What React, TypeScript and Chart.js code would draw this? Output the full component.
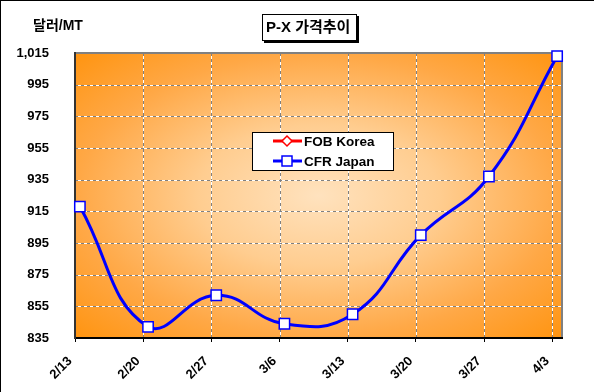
import React, { useEffect, useRef } from "react";
import { Chart, registerables } from "chart.js";

Chart.register(...registerables);

const categories = ["2/13", "2/20", "2/27", "3/6", "3/13", "3/20", "3/27", "4/3"];
const dayOffsets = [0, 7, 14, 21, 28, 35, 42, 49];
const cfrJapan = [918, 842, 862, 844, 850, 900, 937, 1013];
const fobKorea: (number | null)[] = [null, null, null, null, null, null, null, null];
const yMin = 835;
const yMax = 1015;
const yStep = 20;
const titleText = "P-X 가격추이";
const yUnitText = "달러/MT";

const FONT = '"Liberation Sans", "Noto Sans CJK KR", Arial, sans-serif';

const labelFor = (v: number) => categories[dayOffsets.indexOf(Number(v))] ?? "";

const decorPlugin = {
  id: "decor",
  beforeDraw(chart: any) {
    const { ctx, chartArea: a, scales } = chart;
    ctx.save();
    ctx.fillStyle = "#ffffff";
    ctx.fillRect(0, 0, chart.width, chart.height);
    const cx = (a.left + a.right) / 2;
    const cy = (a.top + a.bottom) / 2;
    const hw = (a.right - a.left) / 2;
    const hh = (a.bottom - a.top) / 2;
    ctx.save();
    ctx.translate(cx, cy);
    ctx.scale(hw, hh);
    const g = ctx.createRadialGradient(0, 0, 0, 0, 0, Math.SQRT2);
    g.addColorStop(0, "#FFE2BE");
    g.addColorStop(0.35, "#FFCD90");
    g.addColorStop(0.7, "#FFA846");
    g.addColorStop(1, "#FF9410");
    ctx.fillStyle = g;
    ctx.fillRect(-1, -1, 2, 2);
    ctx.restore();

    const drawLine = (x1: number, y1: number, x2: number, y2: number) => {
      ctx.lineWidth = 1;
      ctx.setLineDash([]);
      ctx.strokeStyle = "#ffffff";
      ctx.beginPath();
      ctx.moveTo(x1, y1);
      ctx.lineTo(x2, y2);
      ctx.stroke();
      ctx.setLineDash([3, 3]);
      ctx.strokeStyle = "#808080";
      ctx.beginPath();
      ctx.moveTo(x1, y1);
      ctx.lineTo(x2, y2);
      ctx.stroke();
    };
    scales.x.ticks.forEach((t: any) => {
      if (t.value === 0) return;
      const x = Math.round(scales.x.getPixelForValue(t.value)) + 0.5;
      drawLine(x, a.top, x, a.bottom);
    });
    scales.y.ticks.forEach((t: any) => {
      if (t.value === yMin || t.value === yMax) return;
      const y = Math.round(scales.y.getPixelForValue(t.value)) + 0.5;
      drawLine(a.left, y, a.right, y);
    });
    ctx.setLineDash([]);
    ctx.strokeStyle = "#808080";
    ctx.lineWidth = 2;
    ctx.beginPath();
    ctx.moveTo(a.left, a.top);
    ctx.lineTo(a.right, a.top);
    ctx.lineTo(a.right, a.bottom);
    ctx.stroke();
    ctx.restore();
  },
  afterDraw(chart: any) {
    const { ctx, scales, chartArea: a } = chart;
    ctx.save();
    ctx.fillStyle = "#000";
    ctx.fillRect(0, 0, chart.width, 1);
    ctx.fillRect(0, 0, 1, chart.height);

    // rotated x labels
    ctx.font = `bold 13px ${FONT}`;
    ctx.textAlign = "right";
    ctx.textBaseline = "middle";
    scales.x.ticks.forEach((t: any) => {
      const x = scales.x.getPixelForValue(t.value);
      ctx.save();
      ctx.translate(x - 5, a.bottom + 21);
      ctx.rotate(-Math.PI / 4);
      ctx.fillText(labelFor(t.value), 0, 0);
      ctx.restore();
    });

    ctx.fillStyle = "#000";
    ctx.font = `bold 14px ${FONT}`;
    ctx.textAlign = "left";
    ctx.textBaseline = "middle";
    ctx.fillText(yUnitText, 33, 26);

    ctx.fillStyle = "#000";
    ctx.fillRect(264, 16, 95, 27);
    ctx.fillStyle = "#fff";
    ctx.fillRect(262, 14, 95, 27);
    ctx.strokeStyle = "#000";
    ctx.lineWidth = 1;
    ctx.strokeRect(262.5, 14.5, 94, 26);
    ctx.fillStyle = "#000";
    ctx.font = `bold 15px ${FONT}`;
    ctx.fillText(titleText, 266, 28);

    const lx = 252, ly = 132, lw = 142, lh = 39;
    ctx.fillStyle = "#fff";
    ctx.fillRect(lx, ly, lw, lh);
    ctx.strokeStyle = "#000";
    ctx.lineWidth = 1;
    ctx.strokeRect(lx + 0.5, ly + 0.5, lw - 1, lh - 1);
    const rows = [141, 161];
    chart.data.datasets.forEach((ds: any, i: number) => {
      const y = rows[i];
      ctx.strokeStyle = ds.borderColor;
      ctx.lineWidth = 3;
      ctx.beginPath();
      ctx.moveTo(273, y);
      ctx.lineTo(302, y);
      ctx.stroke();
      ctx.fillStyle = "#fff";
      ctx.lineWidth = 1.5;
      ctx.strokeStyle = ds.pointBorderColor;
      ctx.beginPath();
      if (ds.pointStyle === "rectRot") {
        ctx.moveTo(287, y - 5);
        ctx.lineTo(292, y);
        ctx.lineTo(287, y + 5);
        ctx.lineTo(282, y);
        ctx.closePath();
      } else {
        ctx.rect(282, y - 5, 10, 10);
      }
      ctx.fill();
      ctx.stroke();
      ctx.fillStyle = "#000";
      ctx.font = `bold 13.5px ${FONT}`;
      ctx.textBaseline = "middle";
      ctx.fillText(ds.label, 304, y + 1);
    });
    ctx.restore();
  },
};

export default function App() {
  const ref = useRef<HTMLCanvasElement | null>(null);
  useEffect(() => {
    document.body.style.margin = "0";
    if (!ref.current) return;
    const chart = new Chart(ref.current, {
      type: "line",
      data: {
        datasets: [
          {
            label: "FOB Korea",
            data: dayOffsets.map((d, i) => ({ x: d + 0.5, y: fobKorea[i] })),
            borderColor: "#FF0000",
            backgroundColor: "#FFFFFF",
            pointBorderColor: "#FF0000",
            pointBackgroundColor: "#FFFFFF",
            pointStyle: "rectRot",
            borderWidth: 3,
            pointRadius: 5,
            tension: 0.5,
            spanGaps: false,
          } as any,
          {
            label: "CFR Japan",
            data: dayOffsets.map((d, i) => ({ x: d + 0.5, y: cfrJapan[i] })),
            borderColor: "#0000FF",
            backgroundColor: "#FFFFFF",
            pointBorderColor: "#0000FF",
            pointBackgroundColor: "#FFFFFF",
            pointStyle: "rect",
            borderWidth: 3,
            pointRadius: 7.3,
            pointBorderWidth: 1.5,
            tension: 0.45,
            clip: false,
          } as any,
        ],
      },
      options: {
        animation: false,
        responsive: false,
        devicePixelRatio: 1,
        layout: { padding: { left: 0, right: 32, top: 53, bottom: 0 } },
        plugins: {
          legend: { display: false },
          tooltip: { enabled: false },
          title: { display: false },
        },
        scales: {
          x: {
            type: "linear",
            min: 0,
            max: 50,
            afterBuildTicks: (s: any) => {
              s.ticks = dayOffsets.map((v) => ({ value: v }));
            },
            afterFit: (s: any) => {
              s.height = 54;
            },
            grid: {
              display: true,
              drawOnChartArea: false,
              drawTicks: true,
              tickLength: 4,
              tickColor: "#000",
              tickWidth: 1,
              tickBorderDash: [],
            },
            border: { display: true, color: "#000", width: 2 },
            ticks: {
              display: false,
              autoSkip: false,
              callback: (v: any) => labelFor(v),
            },
          },
          y: {
            type: "linear",
            min: yMin,
            max: yMax,
            afterFit: (s: any) => {
              s.width = 75;
            },
            grid: { display: false },
            border: { display: true, color: "#333", width: 2 },
            ticks: {
              stepSize: yStep,
              padding: 18,
              color: "#000",
              font: { family: FONT, size: 13, weight: "bold" },
              callback: (v: any) => Number(v).toLocaleString("en-US"),
            },
          },
        },
      } as any,
      plugins: [decorPlugin],
    });
    return () => chart.destroy();
  }, []);
  return (
    <div style={{ width: 594, height: 392 }}>
      <canvas ref={ref} width={594} height={392} style={{ display: "block" }} />
    </div>
  );
}
